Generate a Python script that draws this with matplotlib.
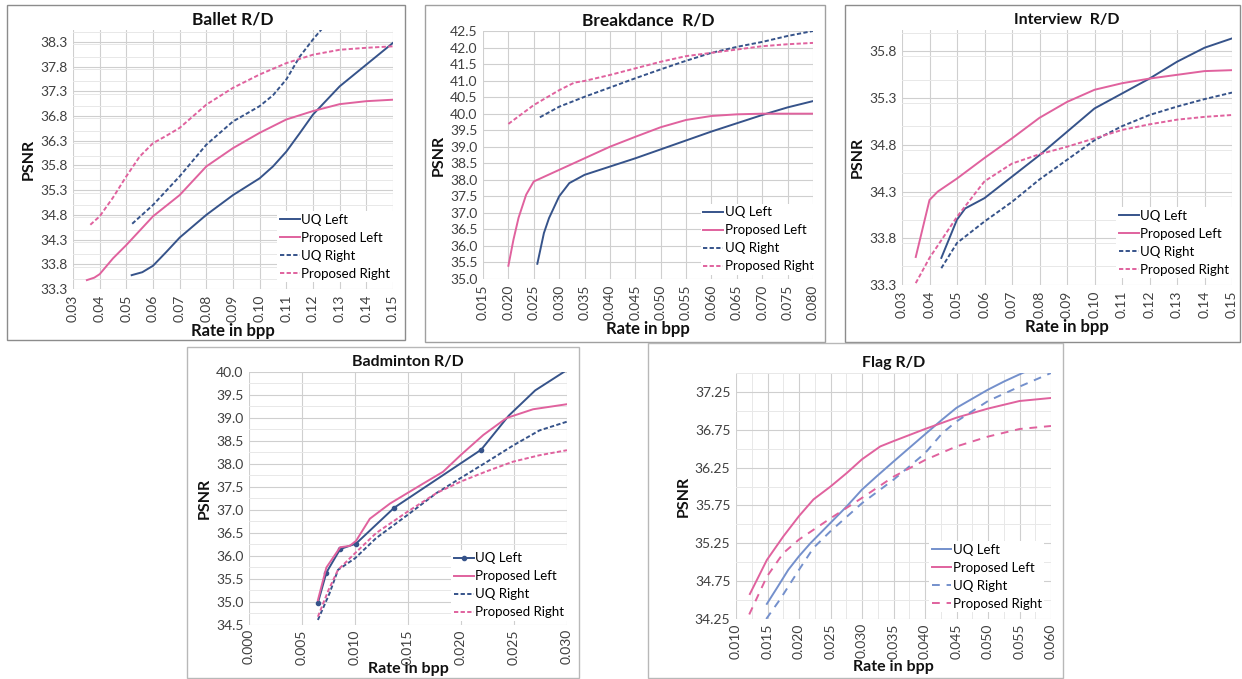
import matplotlib
matplotlib.use("Agg")
import matplotlib.pyplot as plt
from matplotlib.patches import Rectangle
from matplotlib.ticker import MultipleLocator, FormatStrFormatter

plt.rcParams["font.family"] = ["Lato", "DejaVu Sans"]

SERIES = ["UQ Left", "Proposed Left", "UQ Right", "Proposed Right"]

# Ballet
ballet_uq_left_x = [0.052, 0.056, 0.060, 0.065, 0.070, 0.080, 0.090, 0.100, 0.105, 0.110, 0.115, 0.120, 0.130, 0.140, 0.150]
ballet_uq_left_y = [33.58, 33.64, 33.77, 34.05, 34.34, 34.80, 35.20, 35.54, 35.78, 36.08, 36.45, 36.83, 37.40, 37.84, 38.28]
ballet_prop_left_x = [0.0352, 0.038, 0.040, 0.045, 0.050, 0.060, 0.070, 0.080, 0.090, 0.100, 0.110, 0.120, 0.130, 0.140, 0.150]
ballet_prop_left_y = [33.48, 33.53, 33.60, 33.92, 34.19, 34.77, 35.20, 35.78, 36.15, 36.46, 36.73, 36.90, 37.04, 37.10, 37.13]
ballet_uq_right_x = [0.0522, 0.060, 0.070, 0.080, 0.090, 0.100, 0.105, 0.110, 0.115, 0.120, 0.1255]
ballet_uq_right_y = [34.62, 35.00, 35.58, 36.22, 36.69, 37.00, 37.22, 37.54, 38.00, 38.35, 38.70]
ballet_prop_right_x = [0.0365, 0.040, 0.045, 0.050, 0.055, 0.060, 0.065, 0.070, 0.080, 0.090, 0.100, 0.110, 0.120, 0.130, 0.140, 0.150]
ballet_prop_right_y = [34.60, 34.77, 35.15, 35.58, 35.98, 36.25, 36.40, 36.56, 37.03, 37.37, 37.64, 37.87, 38.04, 38.14, 38.18, 38.21]

# Breakdance
brk_uq_left_x = [0.0257, 0.027, 0.028, 0.030, 0.032, 0.035, 0.040, 0.045, 0.050, 0.055, 0.060, 0.065, 0.070, 0.075, 0.080]
brk_uq_left_y = [35.46, 36.39, 36.84, 37.50, 37.90, 38.15, 38.40, 38.65, 38.92, 39.19, 39.46, 39.71, 39.96, 40.19, 40.38]
brk_prop_left_x = [0.020, 0.021, 0.022, 0.0235, 0.025, 0.030, 0.035, 0.040, 0.045, 0.050, 0.055, 0.060, 0.065, 0.070, 0.080]
brk_prop_left_y = [35.40, 36.19, 36.85, 37.55, 37.95, 38.30, 38.65, 39.00, 39.30, 39.59, 39.81, 39.93, 39.98, 40.00, 40.00]
brk_uq_right_x = [0.0262, 0.030, 0.035, 0.040, 0.045, 0.050, 0.055, 0.060, 0.065, 0.070, 0.075, 0.080]
brk_uq_right_y = [39.89, 40.21, 40.51, 40.79, 41.07, 41.34, 41.60, 41.84, 42.02, 42.17, 42.35, 42.50]
brk_prop_right_x = [0.020, 0.025, 0.030, 0.033, 0.035, 0.040, 0.045, 0.050, 0.055, 0.060, 0.065, 0.070, 0.075, 0.080]
brk_prop_right_y = [39.69, 40.26, 40.71, 40.94, 40.99, 41.17, 41.37, 41.57, 41.74, 41.84, 41.94, 42.04, 42.10, 42.14]

# Interview
int_uq_left_x = [0.0443, 0.050, 0.053, 0.060, 0.070, 0.080, 0.090, 0.100, 0.110, 0.120, 0.130, 0.140, 0.150]
int_uq_left_y = [33.59, 34.00, 34.12, 34.23, 34.46, 34.69, 34.94, 35.19, 35.35, 35.51, 35.69, 35.84, 35.94]
int_prop_left_x = [0.035, 0.040, 0.043, 0.050, 0.060, 0.070, 0.080, 0.090, 0.100, 0.110, 0.120, 0.130, 0.140, 0.150]
int_prop_left_y = [33.60, 34.21, 34.30, 34.44, 34.66, 34.87, 35.09, 35.26, 35.39, 35.46, 35.51, 35.55, 35.59, 35.60]
int_uq_right_x = [0.0443, 0.050, 0.060, 0.070, 0.080, 0.090, 0.100, 0.110, 0.120, 0.130, 0.140, 0.150]
int_uq_right_y = [33.48, 33.75, 33.98, 34.19, 34.43, 34.64, 34.85, 35.00, 35.12, 35.21, 35.29, 35.36]
int_prop_right_x = [0.035, 0.040, 0.050, 0.060, 0.070, 0.080, 0.090, 0.100, 0.110, 0.120, 0.130, 0.140, 0.150]
int_prop_right_y = [33.32, 33.59, 34.03, 34.41, 34.60, 34.70, 34.78, 34.87, 34.96, 35.02, 35.07, 35.10, 35.12]

# Badminton
bad_uq_left_x = [0.0065, 0.0073, 0.0086, 0.0101, 0.0137, 0.0219, 0.0245, 0.0270, 0.0297]
bad_uq_left_y = [34.98, 35.64, 36.15, 36.27, 37.05, 38.31, 39.05, 39.60, 40.00]
bad_uq_left_marks = [0, 1, 2, 3, 4, 5]
bad_prop_left_x = [0.0065, 0.0073, 0.0086, 0.0095, 0.0101, 0.0114, 0.0133, 0.0164, 0.0183, 0.0200, 0.0221, 0.0243, 0.0268, 0.0300]
bad_prop_left_y = [35.04, 35.75, 36.19, 36.22, 36.33, 36.81, 37.14, 37.57, 37.83, 38.20, 38.63, 39.00, 39.19, 39.30]
bad_uq_right_x = [0.0065, 0.0076, 0.0084, 0.0100, 0.0120, 0.0150, 0.0177, 0.0200, 0.0224, 0.0249, 0.0274, 0.0300]
bad_uq_right_y = [34.61, 35.19, 35.70, 35.95, 36.39, 36.90, 37.37, 37.70, 38.04, 38.40, 38.73, 38.92]
bad_prop_right_x = [0.0065, 0.0075, 0.0084, 0.0100, 0.0120, 0.0150, 0.0177, 0.0200, 0.0224, 0.0249, 0.0274, 0.0300]
bad_prop_right_y = [34.68, 35.26, 35.70, 36.06, 36.50, 36.97, 37.37, 37.62, 37.84, 38.05, 38.19, 38.30]

# Flag
flag_uq_left_x = [0.0149, 0.0165, 0.0183, 0.0200, 0.0218, 0.0250, 0.0276, 0.0300, 0.0324, 0.0350, 0.0400, 0.0428, 0.0450, 0.0500, 0.0526, 0.0560]
flag_uq_left_y = [34.45, 34.66, 34.90, 35.08, 35.25, 35.52, 35.74, 35.96, 36.14, 36.33, 36.69, 36.89, 37.04, 37.28, 37.39, 37.52]
flag_prop_left_x = [0.0122, 0.0149, 0.0175, 0.0200, 0.0223, 0.0250, 0.0276, 0.0300, 0.0329, 0.0350, 0.0400, 0.0450, 0.0500, 0.0550, 0.0600]
flag_prop_left_y = [34.58, 35.03, 35.34, 35.61, 35.83, 36.00, 36.18, 36.36, 36.53, 36.60, 36.76, 36.91, 37.03, 37.13, 37.17]
flag_uq_right_x = [0.0148, 0.0170, 0.0200, 0.0223, 0.0250, 0.0300, 0.0350, 0.0400, 0.0428, 0.0450, 0.0500, 0.0550, 0.0600]
flag_uq_right_y = [34.25, 34.51, 34.90, 35.19, 35.41, 35.78, 36.09, 36.44, 36.71, 36.86, 37.13, 37.32, 37.50]
flag_prop_right_x = [0.0121, 0.0149, 0.0175, 0.0200, 0.0250, 0.0300, 0.0350, 0.0400, 0.0450, 0.0500, 0.0550, 0.0600]
flag_prop_right_y = [34.31, 34.81, 35.12, 35.30, 35.58, 35.85, 36.13, 36.35, 36.53, 36.66, 36.76, 36.80]

W, H = 1242, 679
fig = plt.figure(figsize=(W / 100, H / 100), dpi=100)

NAVY = "#36538a"
PINK = "#e0629e"
LBLUE = "#7490cc"


def px_axes(x0, y0, x1, y1):
    return fig.add_axes([x0 / W, 1 - y1 / H, (x1 - x0) / W, (y1 - y0) / H])


def frame(x0, y0, x1, y1, color):
    fig.patches.append(Rectangle((x0 / W, 1 - y1 / H), (x1 - x0) / W, (y1 - y0) / H,
                                 transform=fig.transFigure, fill=False, edgecolor=color, linewidth=1.0))


def style_axes(ax, title, xlim, xmaj, xmin, xfmt, ylim, yticks, ymin, yfmt, tsize=12, xpad=4):
    ax.set_xlim(*xlim)
    ax.set_ylim(*ylim)
    ax.xaxis.set_major_locator(MultipleLocator(xmaj))
    if xmin:
        ax.xaxis.set_minor_locator(MultipleLocator(xmin))
    ax.set_yticks(yticks)
    if ymin:
        ax.yaxis.set_minor_locator(MultipleLocator(ymin))
    ax.xaxis.set_major_formatter(FormatStrFormatter(xfmt))
    ax.yaxis.set_major_formatter(FormatStrFormatter(yfmt))
    ax.grid(which="major", color="#cfcfcf", linewidth=0.8)
    ax.grid(which="minor", color="#e8e8e8", linewidth=0.7)
    ax.set_axisbelow(True)
    for s in ax.spines.values():
        s.set_visible(False)
    ax.tick_params(which="both", length=0)
    ax.tick_params(axis="x", labelrotation=90, labelsize=10, colors="#404040", pad=xpad)
    ax.tick_params(axis="y", labelsize=10, colors="#404040", pad=4)
    ax.set_title(title, fontsize=tsize, fontweight="bold", pad=4, color="#111111")
    ax.set_xlabel("Rate in bpp", fontsize=12, fontweight="bold", labelpad=1, color="#111111")
    ax.set_ylabel("PSNR", fontsize=11.5, fontweight="bold", labelpad=3, color="#111111")


def draw(ax, data, blue, dash, legend_anchor, marks=None):
    (x1, y1), (x2, y2), (x3, y3), (x4, y4) = data
    if marks is not None:
        ax.plot(x1, y1, color=blue, lw=1.4, marker="o", ms=3, markevery=marks, label=SERIES[0])
    else:
        ax.plot(x1, y1, color=blue, lw=1.4, label=SERIES[0])
    ax.plot(x2, y2, color=PINK, lw=1.4, label=SERIES[1])
    ax.plot(x3, y3, color=blue, lw=1.4, dashes=dash, label=SERIES[2])
    ax.plot(x4, y4, color=PINK, lw=1.4, dashes=dash, label=SERIES[3])
    leg = ax.legend(loc="lower right", bbox_to_anchor=legend_anchor, fontsize=9.5,
                    handlelength=1.5, handletextpad=0.1, labelspacing=0.45,
                    borderpad=0.2, frameon=True, fancybox=False)
    leg.get_frame().set_facecolor("white")
    leg.get_frame().set_edgecolor("none")
    leg.get_frame().set_alpha(1)


# frames
frame(7, 5, 405, 340, "#8c8c8c")
frame(425, 5, 825, 342, "#a0a0a0")
frame(845, 5, 1240, 342, "#8c8c8c")
frame(187, 347, 579, 678, "#b8b8b8")
frame(648, 343, 1063, 678, "#b8b8b8")

ax1 = px_axes(73, 30, 393, 289)
draw(ax1, [(ballet_uq_left_x, ballet_uq_left_y), (ballet_prop_left_x, ballet_prop_left_y),
           (ballet_uq_right_x, ballet_uq_right_y), (ballet_prop_right_x, ballet_prop_right_y)],
     NAVY, (2.2, 1.2), (1.02, 0.0))
style_axes(ax1, "Ballet R/D", (0.03, 0.15), 0.01, None, "%.2f",
           (33.3, 38.54), [33.3 + 0.5 * i for i in range(11)], 0.25, "%.1f", tsize=12.5)

ax2 = px_axes(483, 31, 813, 279)
draw(ax2, [(brk_uq_left_x, brk_uq_left_y), (brk_prop_left_x, brk_prop_left_y),
           (brk_uq_right_x, brk_uq_right_y), (brk_prop_right_x, brk_prop_right_y)],
     NAVY, (2.2, 1.2), (1.03, -0.01))
style_axes(ax2, "Breakdance  R/D", (0.015, 0.080), 0.005, None, "%.3f",
           (35.0, 42.5), [35.0 + 0.5 * i for i in range(16)], None, "%.1f", tsize=12.5)

ax3 = px_axes(902, 30, 1232, 285)
draw(ax3, [(int_uq_left_x, int_uq_left_y), (int_prop_left_x, int_prop_left_y),
           (int_uq_right_x, int_uq_right_y), (int_prop_right_x, int_prop_right_y)],
     NAVY, (2.2, 1.2), (1.02, 0.0))
style_axes(ax3, "Interview  R/D", (0.03, 0.15), 0.01, None, "%.2f",
           (33.3, 36.03), [33.3 + 0.5 * i for i in range(6)], 0.25, "%.1f", tsize=11.5)

ax4 = px_axes(249, 372, 567, 625)
draw(ax4, [(bad_uq_left_x, bad_uq_left_y), (bad_prop_left_x, bad_prop_left_y),
           (bad_uq_right_x, bad_uq_right_y), (bad_prop_right_x, bad_prop_right_y)],
     NAVY, (2.2, 1.2), (1.02, -0.01), marks=bad_uq_left_marks)
style_axes(ax4, "Badminton R/D", (0.0, 0.030), 0.005, None, "%.3f",
           (34.5, 40.0), [34.5 + 0.5 * i for i in range(12)], 0.25, "%.1f", tsize=11.5, xpad=3)
# label tucked just under the tick labels, close to the bottom edge
ax4.xaxis.label.set_fontsize(11.5)
ax4.xaxis.set_label_coords(0.5, -(662 - 625) / 253)

ax5 = px_axes(736, 373, 1051, 619)
draw(ax5, [(flag_uq_left_x, flag_uq_left_y), (flag_prop_left_x, flag_prop_left_y),
           (flag_uq_right_x, flag_uq_right_y), (flag_prop_right_x, flag_prop_right_y)],
     LBLUE, (4, 3.5), (1.0, 0.0))
style_axes(ax5, "Flag R/D", (0.010, 0.060), 0.005, 0.0025, "%.3f",
           (34.25, 37.5), [34.25 + 0.5 * i for i in range(7)], 0.25, "%.2f", tsize=11.5, xpad=3)
ax5.xaxis.label.set_fontsize(11.5)
ax5.xaxis.set_label_coords(0.5, -(660 - 619) / 246)

fig.savefig("out.png", dpi=100)
